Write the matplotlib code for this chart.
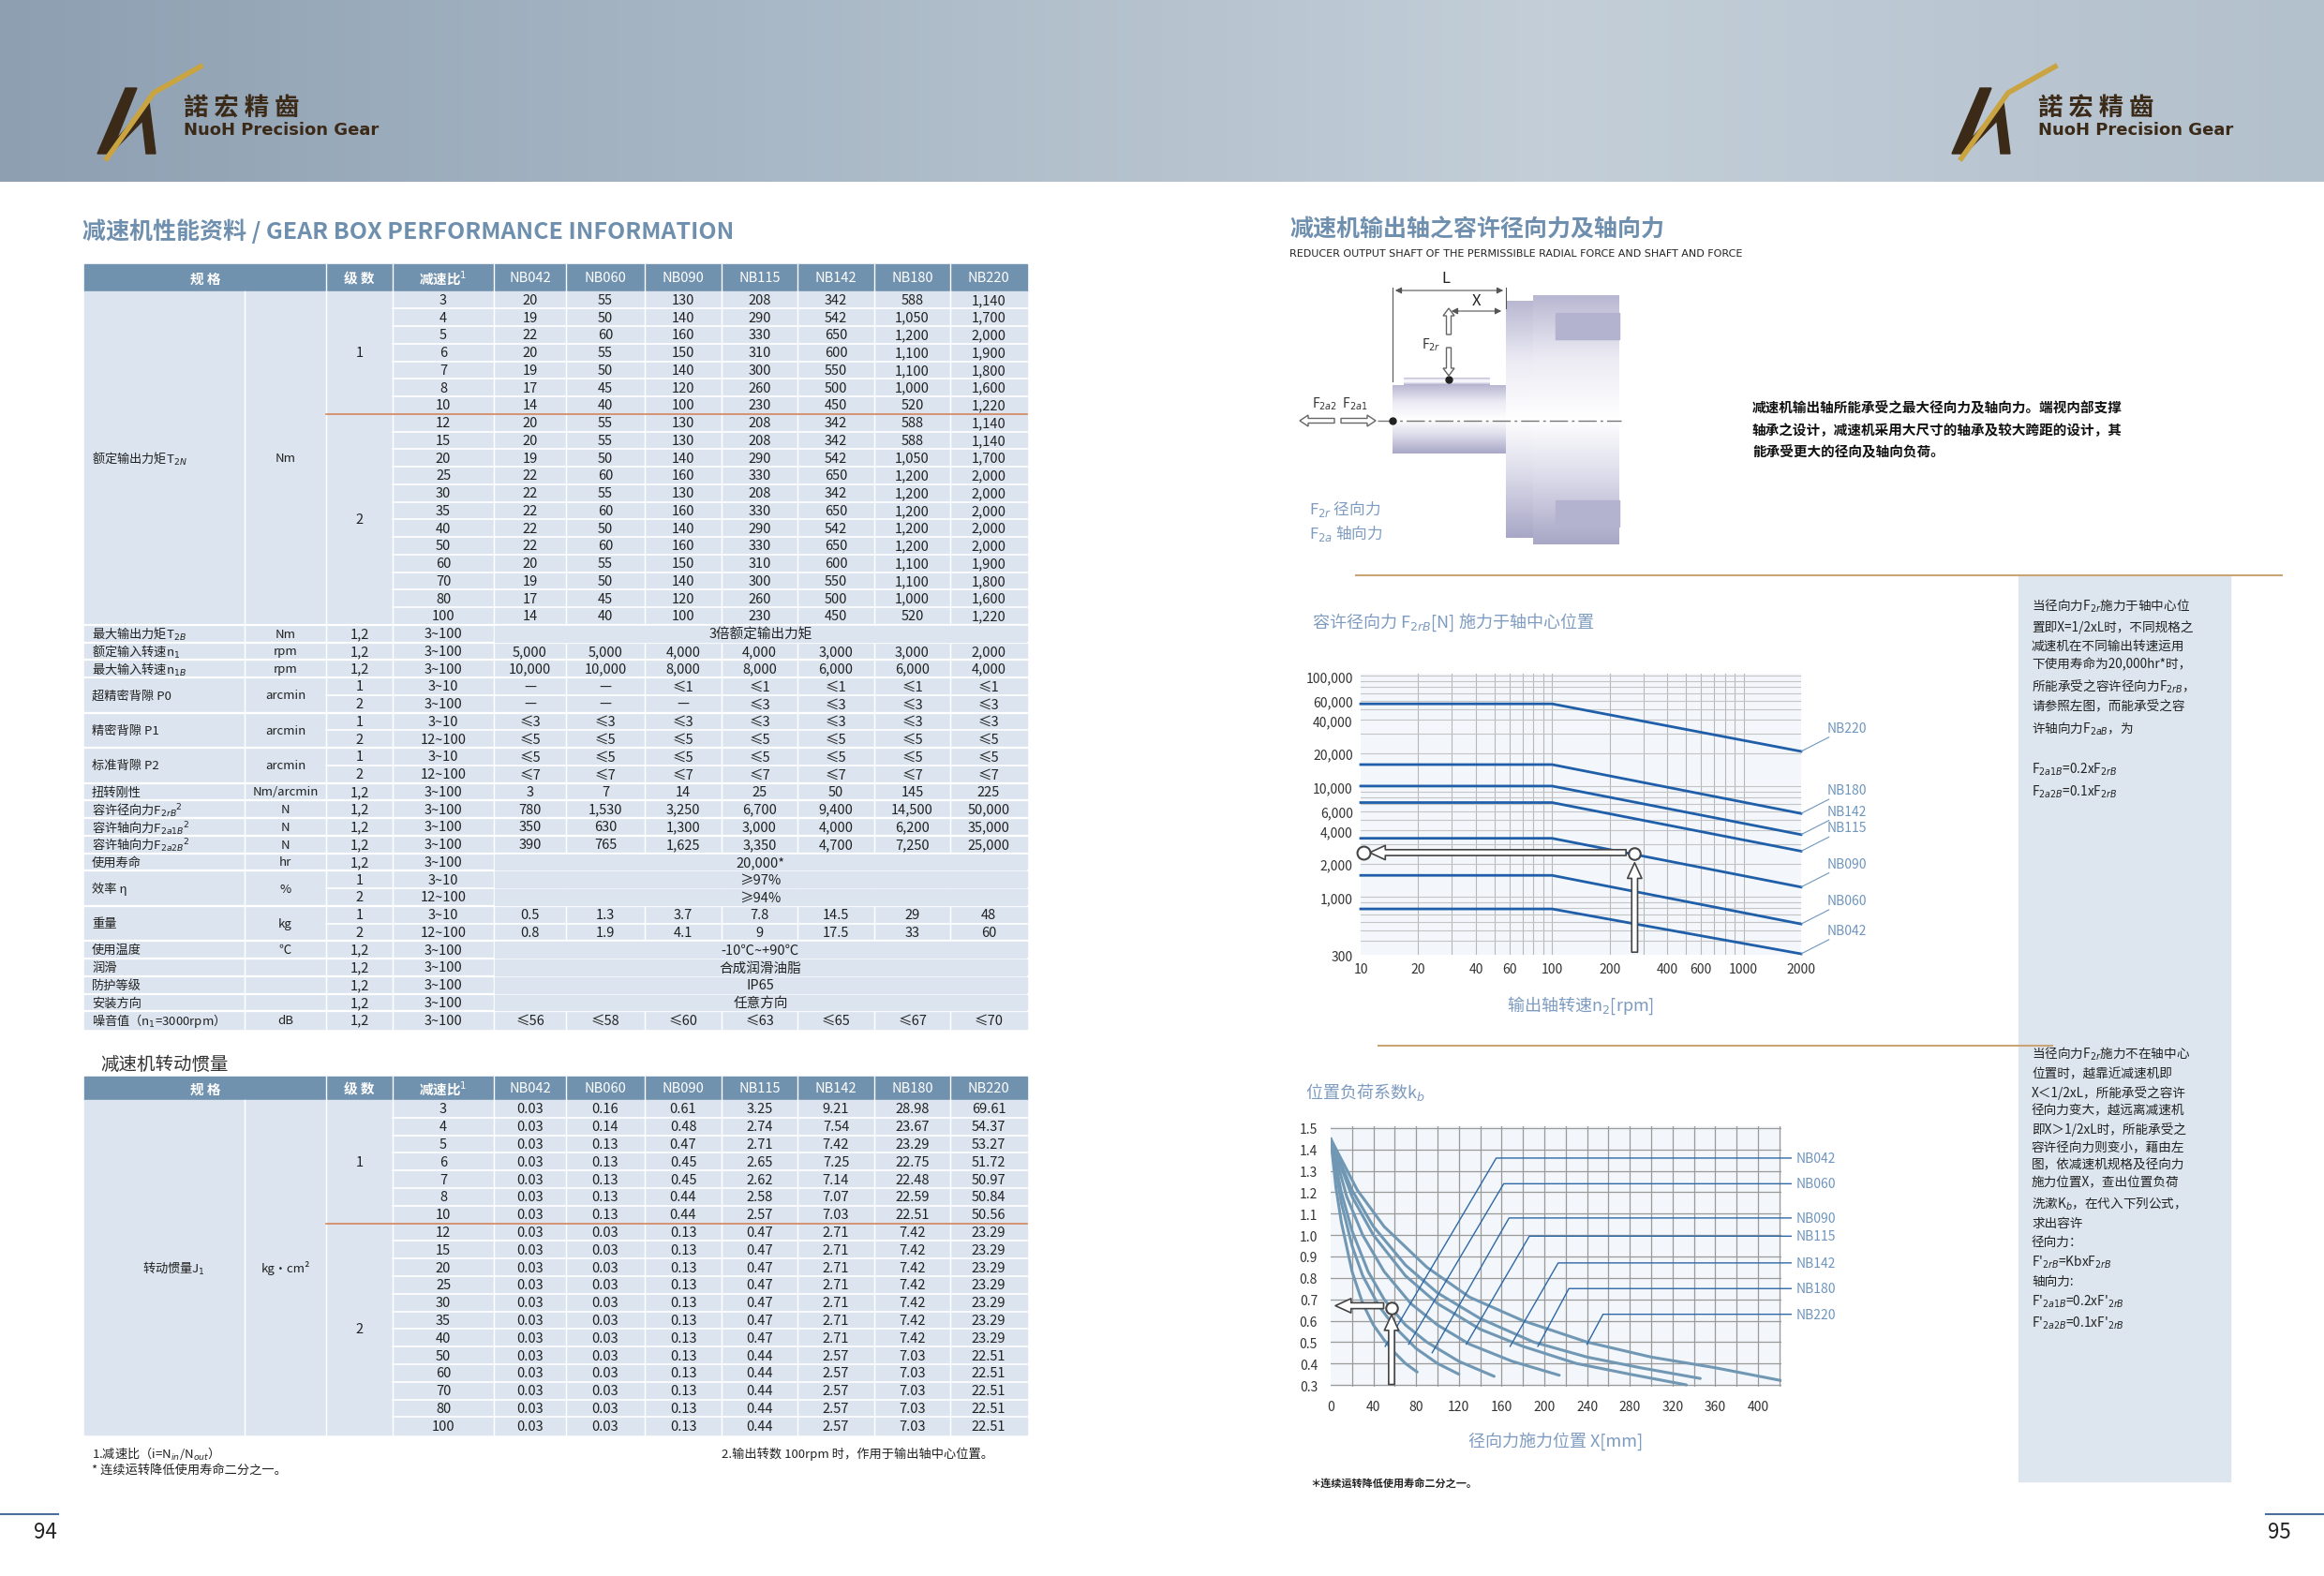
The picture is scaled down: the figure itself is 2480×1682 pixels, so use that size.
import numpy as np
import matplotlib
matplotlib.use('Agg')
import matplotlib.pyplot as plt
from matplotlib.patches import Rectangle, Polygon, FancyArrow
from matplotlib.colors import LinearSegmentedColormap

plt.rcParams['font.family'] = ['Noto Sans CJK SC', 'DejaVu Sans']

# ---------------- data ----------------
models = ['NB042', 'NB060', 'NB090', 'NB115', 'NB142', 'NB180', 'NB220']
ratios_torque = [3, 4, 5, 6, 7, 8, 10, 12, 15, 20, 25, 30, 35, 40, 50, 60, 70, 80, 100]
torque_042 = [20, 19, 22, 20, 19, 17, 14, 20, 20, 19, 22, 22, 22, 22, 22, 20, 19, 17, 14]
torque_060 = [55, 50, 60, 55, 50, 45, 40, 55, 55, 50, 60, 55, 60, 50, 60, 55, 50, 45, 40]
torque_090 = [130, 140, 160, 150, 140, 120, 100, 130, 130, 140, 160, 130, 160, 140, 160, 150, 140, 120, 100]
torque_115 = [208, 290, 330, 310, 300, 260, 230, 208, 208, 290, 330, 208, 330, 290, 330, 310, 300, 260, 230]
torque_142 = [342, 542, 650, 600, 550, 500, 450, 342, 342, 542, 650, 342, 650, 542, 650, 600, 550, 500, 450]
torque_180 = [588, 1050, 1200, 1100, 1100, 1000, 520, 588, 588, 1050, 1200, 1200, 1200, 1200, 1200, 1100, 1100, 1000, 520]
torque_220 = [1140, 1700, 2000, 1900, 1800, 1600, 1220, 1140, 1140, 1700, 2000, 2000, 2000, 2000, 2000, 1900, 1800, 1600, 1220]

inertia_042 = [0.03] * 19
inertia_060 = [0.16, 0.14, 0.13, 0.13, 0.13, 0.13, 0.13] + [0.03] * 12
inertia_090 = [0.61, 0.48, 0.47, 0.45, 0.45, 0.44, 0.44] + [0.13] * 12
inertia_115 = [3.25, 2.74, 2.71, 2.65, 2.62, 2.58, 2.57] + [0.47] * 7 + [0.44] * 5
inertia_142 = [9.21, 7.54, 7.42, 7.25, 7.14, 7.07, 7.03] + [2.71] * 7 + [2.57] * 5
inertia_180 = [28.98, 23.67, 23.29, 22.75, 22.48, 22.59, 22.51] + [7.42] * 7 + [7.03] * 5
inertia_220 = [69.61, 54.37, 53.27, 51.72, 50.97, 50.84, 50.56] + [23.29] * 7 + [22.51] * 5

# lower part of the performance table: (label, unit, [(stage, ratio, values or text)])
spec_rows = [
    ('最大输出力矩T$_{2B}$', 'Nm', [('1,2', '3~100', '3倍额定输出力矩')]),
    ('额定输入转速n$_1$', 'rpm', [('1,2', '3~100', ['5,000', '5,000', '4,000', '4,000', '3,000', '3,000', '2,000'])]),
    ('最大输入转速n$_{1B}$', 'rpm', [('1,2', '3~100', ['10,000', '10,000', '8,000', '8,000', '6,000', '6,000', '4,000'])]),
    ('超精密背隙 P0', 'arcmin', [('1', '3~10', ['—', '—', '≤1', '≤1', '≤1', '≤1', '≤1']),
                            ('2', '3~100', ['—', '—', '—', '≤3', '≤3', '≤3', '≤3'])]),
    ('精密背隙 P1', 'arcmin', [('1', '3~10', ['≤3'] * 7), ('2', '12~100', ['≤5'] * 7)]),
    ('标准背隙 P2', 'arcmin', [('1', '3~10', ['≤5'] * 7), ('2', '12~100', ['≤7'] * 7)]),
    ('扭转刚性', 'Nm/arcmin', [('1,2', '3~100', ['3', '7', '14', '25', '50', '145', '225'])]),
    ('容许径向力F$_{2rB}$$^2$', 'N', [('1,2', '3~100', ['780', '1,530', '3,250', '6,700', '9,400', '14,500', '50,000'])]),
    ('容许轴向力F$_{2a1B}$$^2$', 'N', [('1,2', '3~100', ['350', '630', '1,300', '3,000', '4,000', '6,200', '35,000'])]),
    ('容许轴向力F$_{2a2B}$$^2$', 'N', [('1,2', '3~100', ['390', '765', '1,625', '3,350', '4,700', '7,250', '25,000'])]),
    ('使用寿命', 'hr', [('1,2', '3~100', '20,000*')]),
    ('效率 η', '%', [('1', '3~10', '≥97%'), ('2', '12~100', '≥94%')]),
    ('重量', 'kg', [('1', '3~10', ['0.5', '1.3', '3.7', '7.8', '14.5', '29', '48']),
                  ('2', '12~100', ['0.8', '1.9', '4.1', '9', '17.5', '33', '60'])]),
    ('使用温度', '℃', [('1,2', '3~100', '-10℃~+90℃')]),
    ('润滑', '', [('1,2', '3~100', '合成润滑油脂')]),
    ('防护等级', '', [('1,2', '3~100', 'IP65')]),
    ('安装方向', '', [('1,2', '3~100', '任意方向')]),
    ('噪音值（n$_1$=3000rpm）', 'dB', [('1,2', '3~100', ['≤56', '≤58', '≤60', '≤63', '≤65', '≤67', '≤70'])]),
]

# radial force vs output speed (rpm) chart
speed_pts = [10, 100, 2000]
force_042 = [780, 780, 306]
force_060 = [1570, 1570, 570]
force_090 = [3400, 3400, 1230]
force_115 = [7160, 7160, 2600]
force_142 = [10100, 10100, 3670]
force_180 = [15800, 15800, 5700]
force_220 = [56000, 56000, 20800]
example_speed = 270
example_force = 2450

# position load factor kb vs X (mm)
kb_x_042 = [0, 5, 10, 20, 30, 40, 50, 60, 70, 81]
kb_y_042 = [1.45, 1.22, 1.06, 0.83, 0.68, 0.58, 0.51, 0.45, 0.40, 0.36]
kb_x_060 = [0, 10, 20, 30, 45, 60, 80, 100, 120]
kb_y_060 = [1.45, 1.15, 0.95, 0.81, 0.67, 0.57, 0.47, 0.40, 0.35]
kb_x_090 = [0, 10, 20, 35, 50, 70, 90, 120, 153]
kb_y_090 = [1.45, 1.20, 1.02, 0.83, 0.70, 0.58, 0.50, 0.41, 0.34]
kb_x_115 = [0, 15, 30, 50, 75, 100, 130, 170, 214]
kb_y_115 = [1.45, 1.18, 1.00, 0.83, 0.68, 0.58, 0.49, 0.41, 0.345]
kb_x_142 = [0, 20, 40, 70, 100, 140, 180, 230, 280, 333]
kb_y_142 = [1.45, 1.18, 1.00, 0.81, 0.68, 0.56, 0.48, 0.40, 0.35, 0.30]
kb_x_180 = [0, 20, 40, 70, 100, 140, 190, 240, 290, 346]
kb_y_180 = [1.45, 1.21, 1.04, 0.86, 0.73, 0.61, 0.50, 0.43, 0.38, 0.33]
kb_x_220 = [0, 25, 50, 90, 130, 180, 240, 300, 360, 422]
kb_y_220 = [1.45, 1.21, 1.04, 0.85, 0.71, 0.60, 0.50, 0.43, 0.38, 0.32]
kb_leader_start = [(51, 0.48), (73, 0.49), (95, 0.45), (127, 0.49), (168, 0.48), (194, 0.48), (240, 0.49)]
kb_leader_knee = [(155, 1.36), (162, 1.24), (167, 1.08), (186, 0.995), (213, 0.87), (223, 0.75), (255, 0.63)]
example_x = 57
example_kb = 0.66

# ---------------- page layout ----------------
W, H = 2480, 1683
fig = plt.figure(figsize=(24.8, 16.83), dpi=100)
fig.patch.set_facecolor('white')
pg = fig.add_axes([0, 0, 1, 1])
pg.set_xlim(0, W)
pg.set_ylim(H, 0)
pg.axis('off')

# header band with gradient
grad = np.vstack([np.linspace(0, 1, 256)] * 2)
hcm = LinearSegmentedColormap.from_list('hdr', ['#8d9fb1', '#a9b8c6', '#c3ced8', '#b3c1cd'])
pg.imshow(grad, aspect='auto', cmap=hcm, extent=(0, W, 195, 0), zorder=0)


def logo(x0):
    pg.add_patch(Polygon([[x0, 165], [x0 + 30, 95], [x0 + 42, 95], [x0 + 20, 150], [x0 + 55, 110],
                          [x0 + 62, 165], [x0 + 52, 165], [x0 + 48, 130], [x0 + 14, 165]],
                         closed=True, color='#3b2a18', zorder=2))
    pg.plot([x0 + 10, x0 + 60, x0 + 110], [170, 100, 72], color='#c9a441', lw=4, zorder=3)
    pg.text(x0 + 92, 116, '諾 宏 精 齒', fontsize=19, fontweight='bold', color='#3b2a18', va='center')
    pg.text(x0 + 92, 139, 'NuoH Precision Gear', fontsize=13, fontweight='bold', color='#3b2a18', va='center',
            family=['DejaVu Sans'])


logo(104)
logo(2083)

blue_title = '#6f8fae'
pg.text(88, 247, '减速机性能资料 / GEAR BOX PERFORMANCE INFORMATION', fontsize=18, fontweight='bold',
        color=blue_title, va='center')
pg.text(1376, 245, '减速机输出轴之容许径向力及轴向力', fontsize=18, fontweight='bold', color=blue_title, va='center')
pg.text(1376, 271, 'REDUCER OUTPUT SHAFT OF THE PERMISSIBLE RADIAL FORCE AND SHAFT AND FORCE', fontsize=8,
        color='#222222', va='center', family=['DejaVu Sans'])

# ---------------- tables ----------------
col_edges = [90, 261, 348, 419, 527, 604, 688, 770, 851, 933, 1014, 1096]
hdr_col = '#7192ae'
body_col = '#dce5ef'
row_h = 18.75
fs = 10.5


def cx(i):
    return (col_edges[i] + col_edges[i + 1]) / 2


def table_header(y0, y1):
    pg.add_patch(Rectangle((col_edges[0], y0), col_edges[-1] - col_edges[0], y1 - y0, color=hdr_col, zorder=1))
    ym = (y0 + y1) / 2
    pg.text((col_edges[0] + col_edges[2]) / 2, ym, '规 格', color='white', fontsize=fs, fontweight='bold',
            ha='center', va='center', zorder=3)
    pg.text(cx(2), ym, '级 数', color='white', fontsize=fs, fontweight='bold', ha='center', va='center', zorder=3)
    pg.text(cx(3), ym, '减速比$^1$', color='white', fontsize=fs, fontweight='bold', ha='center', va='center', zorder=3)
    for j, m in enumerate(models):
        pg.text(cx(4 + j), ym, m, color='white', fontsize=fs, ha='center', va='center', zorder=3)
    for e in col_edges[2:-1]:
        pg.plot([e, e], [y0, y1], color='white', lw=1, zorder=2)


def hline(y, x0i, color='white', lw=1.2):
    pg.plot([col_edges[x0i], col_edges[-1]], [y, y], color=color, lw=lw, zorder=2)


def vlines(y0, y1):
    for e in col_edges[1:-1]:
        pg.plot([e, e], [y0, y1], color='white', lw=1, zorder=2)


# performance table
t1_top, t1_head = 283, 311.6
table_header(t1_top, t1_head)
n_rows1 = 19 + sum(len(g[2]) for g in spec_rows)
pg.add_patch(Rectangle((col_edges[0], t1_head), col_edges[-1] - col_edges[0], n_rows1 * row_h,
                       color=body_col, zorder=1))
vlines(t1_head, t1_head + n_rows1 * row_h)

torque_cols = [torque_042, torque_060, torque_090, torque_115, torque_142, torque_180, torque_220]
for i, r in enumerate(ratios_torque):
    yc = t1_head + (i + 0.5) * row_h
    pg.text(cx(3), yc, str(r), fontsize=fs, ha='center', va='center', color='#222')
    for j, col in enumerate(torque_cols):
        pg.text(cx(4 + j), yc, f'{col[i]:,}', fontsize=fs, ha='center', va='center', color='#222')
    if i > 0:
        hline(t1_head + i * row_h, 2 if i == 7 else 3, color='#d4845e' if i == 7 else 'white')
pg.text(col_edges[0] + 8, t1_head + 9.5 * row_h, '额定输出力矩T$_{2N}$', fontsize=fs - 1, va='center', color='#222')
pg.text(cx(1), t1_head + 9.5 * row_h, 'Nm', fontsize=fs - 1, ha='center', va='center', color='#222')
pg.text(cx(2), t1_head + 3.5 * row_h, '1', fontsize=fs, ha='center', va='center', color='#222')
pg.text(cx(2), t1_head + 13 * row_h, '2', fontsize=fs, ha='center', va='center', color='#222')

r = 19
for label, unit, subs in spec_rows:
    hline(t1_head + r * row_h, 0, lw=1.6)
    ng = len(subs)
    yg = t1_head + (r + ng / 2) * row_h
    pg.text(col_edges[0] + 8, yg, label, fontsize=fs - 1, va='center', color='#222')
    pg.text(cx(1), yg, unit, fontsize=fs - 1, ha='center', va='center', color='#222')
    for k, (st, rt, vals) in enumerate(subs):
        yc = t1_head + (r + 0.5) * row_h
        if k > 0:
            hline(t1_head + r * row_h, 2)
        pg.text(cx(2), yc, st, fontsize=fs, ha='center', va='center', color='#222')
        pg.text(cx(3), yc, rt, fontsize=fs, ha='center', va='center', color='#222')
        if isinstance(vals, str):
            pg.add_patch(Rectangle((col_edges[4] + 1, yc - row_h / 2 + 1), col_edges[-1] - col_edges[4] - 2,
                                   row_h - 2, color=body_col, zorder=2.5))
            pg.text((col_edges[4] + col_edges[-1]) / 2, yc, vals, fontsize=fs, ha='center', va='center',
                    color='#222', zorder=3)
        else:
            for j, v in enumerate(vals):
                pg.text(cx(4 + j), yc, v, fontsize=fs, ha='center', va='center', color='#222')
        r += 1

# inertia table
pg.text(107, 1136, '减速机转动惯量', fontsize=14, color='#333', va='center')
t2_top, t2_head = 1150, 1175
table_header(t2_top, t2_head)
ratios_inertia = [3, 4, 5, 6, 7, 8, 10, 12, 15, 20, 25, 30, 35, 40, 50, 60, 70, 80, 100]
row_h2 = 18.8
pg.add_patch(Rectangle((col_edges[0], t2_head), col_edges[-1] - col_edges[0], 19 * row_h2, color=body_col, zorder=1))
vlines(t2_head, t2_head + 19 * row_h2)
inertia_cols = [inertia_042, inertia_060, inertia_090, inertia_115, inertia_142, inertia_180, inertia_220]
for i, rr in enumerate(ratios_inertia):
    yc = t2_head + (i + 0.5) * row_h2
    pg.text(cx(3), yc, str(rr), fontsize=fs, ha='center', va='center', color='#222')
    for j, col in enumerate(inertia_cols):
        pg.text(cx(4 + j), yc, f'{col[i]:.2f}', fontsize=fs, ha='center', va='center', color='#222')
    if i > 0:
        pg.plot([col_edges[2] if i == 7 else col_edges[3], col_edges[-1]], [t2_head + i * row_h2] * 2,
                color='#d4845e' if i == 7 else 'white', lw=1.2, zorder=2)
pg.text((col_edges[0] + col_edges[1]) / 2 + 10, t2_head + 9.5 * row_h2, '转动惯量J$_1$', fontsize=fs - 1,
        ha='center', va='center', color='#222')
pg.text(cx(1), t2_head + 9.5 * row_h2, 'kg·cm²', fontsize=fs - 1, ha='center', va='center', color='#222')
pg.text(cx(2), t2_head + 3.5 * row_h2, '1', fontsize=fs, ha='center', va='center', color='#222')
pg.text(cx(2), t2_head + 13 * row_h2, '2', fontsize=fs, ha='center', va='center', color='#222')

pg.text(98, 1552, '1.减速比（i=N$_{in}$/N$_{out}$）', fontsize=9.5, va='center', color='#222')
pg.text(98, 1569, '* 连续运转降低使用寿命二分之一。', fontsize=9.5, va='center', color='#222')
pg.text(770, 1552, '2.输出转数 100rpm 时，作用于输出轴中心位置。', fontsize=9.5, va='center', color='#222')

# page numbers and footer lines
pg.plot([0, 62], [1617, 1617], color='#4a6f9a', lw=1.5)
pg.plot([2418, W], [1617, 1617], color='#4a6f9a', lw=1.5)
pg.text(36, 1636, '94', fontsize=16, va='center', color='#222')
pg.text(2420, 1636, '95', fontsize=16, va='center', color='#222')

# ---------------- right page ----------------
# shaft drawing (cylinders shaded with a vertical gradient)
cyl = LinearSegmentedColormap.from_list('cyl', ['#b9b8d2', '#ecebf4', '#ffffff', '#d9d8e8', '#a8a7c6'])
vgrad = np.linspace(0, 1, 128).reshape(-1, 1)
pg.imshow(vgrad, aspect='auto', cmap=cyl, extent=(1486, 1607, 485, 412), zorder=2)
pg.imshow(vgrad, aspect='auto', cmap=cyl, extent=(1498, 1590, 412, 404), zorder=2)
pg.imshow(vgrad, aspect='auto', cmap=cyl, extent=(1607, 1636, 575, 322), zorder=2)
pg.imshow(vgrad, aspect='auto', cmap=cyl, extent=(1636, 1728, 582, 316), zorder=2)
pg.add_patch(Rectangle((1660, 335), 68, 28, color='#b3b2cf', zorder=3))
pg.add_patch(Rectangle((1660, 535), 68, 28, color='#b3b2cf', zorder=3))
pg.plot([1470, 1730], [450, 450], color='#777', lw=1, ls=(0, (14, 3, 2, 3)), zorder=4)
pg.plot([1486], [450], 'o', color='#222', ms=5, zorder=5)
pg.plot([1546], [406], 'o', color='#222', ms=5, zorder=5)
pg.plot([1486, 1486], [308, 408], color='#555', lw=0.8)
pg.plot([1607, 1607], [308, 330], color='#555', lw=0.8)
pg.annotate('', xy=(1486, 311), xytext=(1607, 311), arrowprops=dict(arrowstyle='<|-|>', color='#555', lw=0.8))
pg.annotate('', xy=(1546, 333), xytext=(1605, 333), arrowprops=dict(arrowstyle='<|-|>', color='#555', lw=0.8))
pg.text(1543, 298, 'L', fontsize=12, ha='center', va='center', color='#222')
pg.text(1575, 322, 'X', fontsize=12, ha='center', va='center', color='#222')
pg.add_patch(FancyArrow(1546, 358, 0, -20, width=5, head_width=12, head_length=8, fc='white', ec='#666', zorder=5))
pg.add_patch(FancyArrow(1546, 372, 0, 22, width=5, head_width=12, head_length=8, fc='white', ec='#666', zorder=5))
pg.text(1538, 368, 'F$_{2r}$', fontsize=10, ha='right', va='center', color='#333')
pg.text(1400, 431, 'F$_{2a2}$  F$_{2a1}$', fontsize=10, va='center', color='#333')
pg.add_patch(FancyArrow(1424, 450, -28, 0, width=5, head_width=12, head_length=9, fc='white', ec='#666'))
pg.add_patch(FancyArrow(1431, 450, 28, 0, width=5, head_width=12, head_length=9, fc='white', ec='#666'))
pg.text(1397, 544, 'F$_{2r}$ 径向力', fontsize=12, va='center', color='#7d9bc0')
pg.text(1397, 569, 'F$_{2a}$ 轴向力', fontsize=12, va='center', color='#7d9bc0')

para = '减速机输出轴所能承受之最大径向力及轴向力。端视内部支撑\n轴承之设计，减速机采用大尺寸的轴承及较大跨距的设计，其\n能承受更大的径向及轴向负荷。'
pg.text(1870, 427, para, fontsize=10.5, va='top', color='#111', fontweight='bold', linespacing=1.6)

# side panel and orange rules
pg.add_patch(Rectangle((2154, 615), 226, 967, color='#dde6ef', zorder=0.5))
pg.plot([1447, 2435], [615, 615], color='#c9a477', lw=1.5)
pg.plot([1471, 2190], [1117, 1117], color='#c9a477', lw=1.5)

side1 = ('当径向力F$_{2r}$施力于轴中心位\n置即X=1/2xL时，不同规格之\n减速机在不同输出转速运用\n'
         '下使用寿命为20,000hr*时，\n所能承受之容许径向力F$_{2rB}$，\n请参照左图，而能承受之容\n'
         '许轴向力F$_{2aB}$，为\n\nF$_{2a1B}$=0.2xF$_{2rB}$\nF$_{2a2B}$=0.1xF$_{2rB}$')
pg.text(2168, 638, side1, fontsize=9.8, va='top', color='#222', linespacing=1.5)
side2 = ('当径向力F$_{2r}$施力不在轴中心\n位置时，越靠近减速机即\nX＜1/2xL，所能承受之容许\n'
         '径向力变大，越远离减速机\n即X＞1/2xL时，所能承受之\n容许径向力则变小，藉由左\n'
         '图，依减速机规格及径向力\n施力位置X，查出位置负荷\n洗漱K$_b$，在代入下列公式，\n'
         '求出容许\n径向力：\nF\'$_{2rB}$=KbxF$_{2rB}$\n轴向力:\nF\'$_{2a1B}$=0.2xF\'$_{2rB}$\nF\'$_{2a2B}$=0.1xF\'$_{2rB}$')
pg.text(2168, 1116, side2, fontsize=9.8, va='top', color='#222', linespacing=1.45)
pg.text(1398, 1584, '＊连续运转降低使用寿命二分之一。', fontsize=8, fontweight='bold', va='center', color='#222')

# ---------------- chart 1: radial force vs speed ----------------
line_blue = '#1f5ea8'
pg.text(1400, 664, '容许径向力 F$_{2rB}$[N] 施力于轴中心位置', fontsize=13, va='center', color='#7d9bc0')
ax1 = fig.add_axes([1452 / W, 1 - 1020 / H, 470 / W, 300 / H])
ax1.set_facecolor('#f3f6fa')
ax1.set_xscale('log')
ax1.set_yscale('log')
ax1.set_xlim(10, 2000)
ax1.set_ylim(300, 105000)
for d in [10, 100, 1000]:
    for k in range(1, 10):
        v = d * k
        if 10 < v < 2000:
            ax1.axvline(v, color='#b8b8b8', lw=0.8, zorder=0)
for d in [100, 1000, 10000]:
    for k in range(1, 10):
        v = d * k
        if 300 < v < 105000:
            ax1.axhline(v, color='#c4c4c4', lw=0.8, zorder=0)
ax1.axhline(100000, color='#c4c4c4', lw=0.8, zorder=0)
force_sets = [force_042, force_060, force_090, force_115, force_142, force_180, force_220]
for m, f in zip(models, force_sets):
    ax1.plot(speed_pts, f, color=line_blue, lw=2, zorder=3, clip_on=False)
    ax1.annotate(m, xy=(speed_pts[-1], f[-1]), xytext=(20, 18), textcoords='offset points',
                 fontsize=10, color='#6f95bd', va='center',
                 arrowprops=dict(arrowstyle='-', color='#6f95bd', lw=0.8, shrinkA=0, shrinkB=0))
ax1.annotate('', xy=(example_speed, example_force * 0.88), xytext=(example_speed, 300),
             arrowprops=dict(arrowstyle='simple,head_width=1.1,head_length=1.2,tail_width=0.45',
                             fc='white', ec='#444', lw=1.2))
ax1.annotate('', xy=(10.8, example_force * 1.03), xytext=(example_speed * 0.93, example_force * 1.03),
             arrowprops=dict(arrowstyle='simple,head_width=1.1,head_length=1.2,tail_width=0.45',
                             fc='white', ec='#444', lw=1.2))
ax1.plot([example_speed], [example_force], 'o', ms=9, mfc='white', mec='#444', mew=1.5, zorder=5)
ax1.plot([10.4], [example_force * 1.03], 'o', ms=10, mfc='white', mec='#444', mew=1.5, zorder=5, clip_on=False)
ax1.set_xticks([10, 20, 40, 60, 100, 200, 400, 600, 1000, 2000])
ax1.set_xticklabels(['10', '20', '40', '60', '100', '200', '400', '600', '1000', '2000'])
ax1.set_yticks([300, 1000, 2000, 4000, 6000, 10000, 20000, 40000, 60000, 100000])
ax1.set_yticklabels(['300', '1,000', '2,000', '4,000', '6,000', '10,000', '20,000', '40,000', '60,000', '100,000'])
ax1.minorticks_off()
ax1.tick_params(length=0, labelsize=10, colors='#333', pad=6)
for s in ax1.spines.values():
    s.set_visible(False)
ax1.set_xlabel('输出轴转速n$_2$[rpm]', fontsize=13, color='#7d9bc0', labelpad=14)

# ---------------- chart 2: load factor kb ----------------
pg.text(1393, 1166, '位置负荷系数k$_b$', fontsize=13, va='center', color='#7d9bc0')
ax2 = fig.add_axes([1420 / W, 1 - 1481.3 / H, 481 / W, 278.6 / H])
ax2.set_facecolor('#f3f6fa')
ax2.set_xlim(0, 422)
ax2.set_ylim(0.29, 1.51)
for v in range(20, 421, 20):
    ax2.axvline(v, color='#9a9a9a', lw=0.9, zorder=0)
for v in np.arange(0.3, 1.51, 0.1):
    ax2.axhline(v, color='#9a9a9a', lw=0.9, zorder=0)
curve_color = '#7097b3'
kb_sets = [(kb_x_042, kb_y_042), (kb_x_060, kb_y_060), (kb_x_090, kb_y_090), (kb_x_115, kb_y_115),
           (kb_x_142, kb_y_142), (kb_x_180, kb_y_180), (kb_x_220, kb_y_220)]
for (xs, ys) in kb_sets:
    ax2.plot(xs, ys, color=curve_color, lw=2.2, zorder=2, solid_capstyle='round')
for m, st, kn in zip(models, kb_leader_start, kb_leader_knee):
    ax2.plot([st[0], kn[0], 431], [st[1], kn[1], kn[1]], color='#2e69a6', lw=1, zorder=3, clip_on=False)
    ax2.text(436, kn[1], m, fontsize=10, color='#6f95bd', va='center')
ax2.annotate('', xy=(example_x, example_kb - 0.02), xytext=(example_x, 0.29),
             arrowprops=dict(arrowstyle='simple,head_width=1.1,head_length=1.2,tail_width=0.45',
                             fc='white', ec='#444', lw=1.2))
ax2.annotate('', xy=(2, example_kb + 0.01), xytext=(example_x - 5, example_kb + 0.01),
             arrowprops=dict(arrowstyle='simple,head_width=1.1,head_length=1.2,tail_width=0.45',
                             fc='white', ec='#444', lw=1.2))
ax2.plot([example_x], [example_kb], 'o', ms=9, mfc='white', mec='#444', mew=1.5, zorder=5)
ax2.set_xticks(range(0, 401, 40))
ax2.set_yticks(np.round(np.arange(0.3, 1.51, 0.1), 1))
ax2.set_yticklabels([f'{v:.1f}' for v in np.arange(0.3, 1.51, 0.1)])
ax2.tick_params(length=0, labelsize=10, colors='#333', pad=10)
for s in ax2.spines.values():
    s.set_visible(False)
ax2.set_xlabel('径向力施力位置 X[mm]', fontsize=13, color='#7d9bc0', labelpad=14)

fig.savefig('out.png', dpi=100)
